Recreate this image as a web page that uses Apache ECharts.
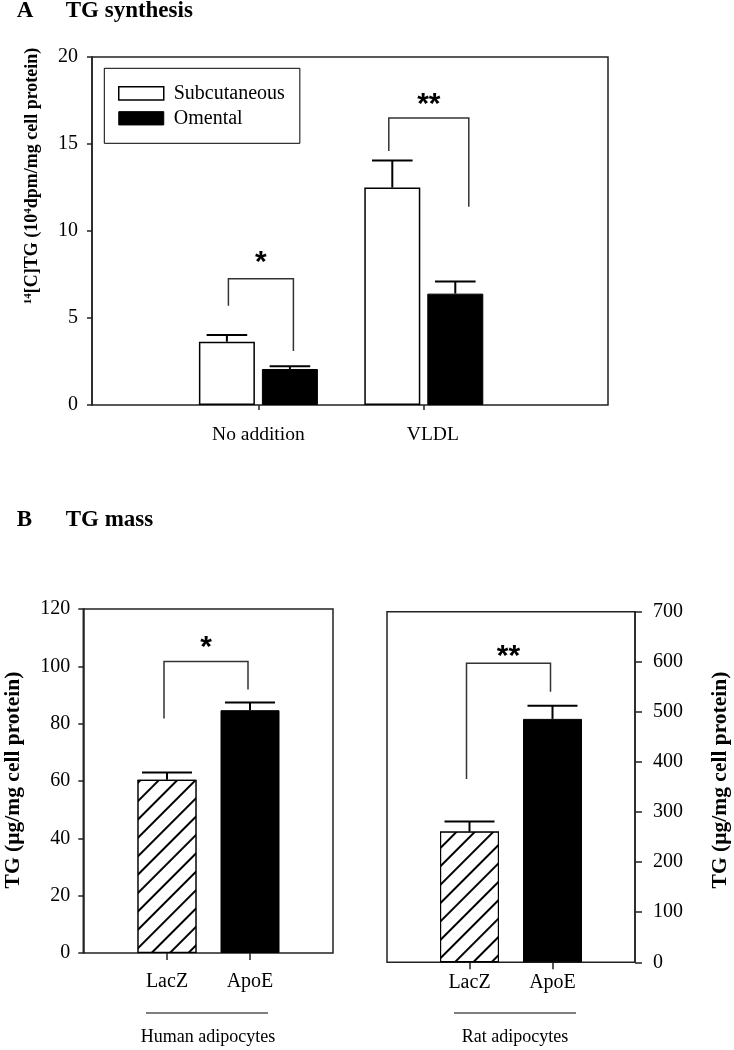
<!DOCTYPE html>
<html><head><meta charset="utf-8">
<script src="https://cdn.jsdelivr.net/npm/echarts@6/dist/echarts.min.js"></script>
<style>html,body{margin:0;padding:0;background:#fff}#c{width:734px;height:1050px}</style>
</head><body><div id="c"></div>
<script>
// ---------- Panel A: TG synthesis ----------
const catsA = ['No addition', 'VLDL'];
const seriesNamesA = ['Subcutaneous', 'Omental'];
const subcutaneous = [3.64, 12.5];
const subcutaneousErr = [0.38, 1.55];
const omental = [2.07, 6.4];
const omentalErr = [0.15, 0.7];
const ticksA = [0, 5, 10, 15, 20];
// significance brackets: [leftCategory, rightCategory, leftEnd, top, rightEnd, label, labelY]
const bracketsA = [[0, 0, 5.7, 7.25, 3.1, '*', 8.5], [1, 1, 14.6, 16.5, 11.4, '**', 17.6]];

// ---------- Panel B: TG mass ----------
const catsB = ['LacZ', 'ApoE'];
const human = [60.4, 84.7];
const humanErr = [2.6, 2.7];
const ticksHuman = [0, 20, 40, 60, 80, 100, 120];
const rat = [261, 486];
const ratErr = [20, 26];
const ticksRat = [0, 100, 200, 300, 400, 500, 600, 700];
const bracketHuman = [[0, 1, 81.8, 101.7, 91.9, '*', 108.5]];
const bracketRat = [[0, 1, 366, 597, 540, '**', 623]];

const FONT = 'Liberation Serif';
const BLACK = '#000';
const LINE = '#222';

// layout / style (pixel) settings
const L = {
  A: { frame: {left: 92, top: 57, width: 516, height: 348}, bars: {left: 175.7, width: 330.8} },
  BL: { frame: {left: 83.3, top: 609, width: 249.7, height: 344}, bars: {left: 125.5, width: 166} },
  BR: { frame: {left: 387, top: 611.7, width: 248, height: 350.6}, bars: {left: 428, width: 166} }
};
const barWA = 56, gapA = 7, offA = (barWA + gapA) / 2;
const barWB = 59;
const bracketOffA = [[-30, 35], [-35, 45]];
const bracketOffB = [[-3, -2]];

function errSeries(name, xi, vals, errs, off, halfCap) {
  return {
    type: 'custom', name: name, xAxisIndex: xi, yAxisIndex: xi, silent: true, z: 5,
    data: vals.map((v, i) => [i, v, errs[i]]),
    encode: {x: 0, y: 1},
    renderItem: function (params, api) {
      const c = api.value(0), v = api.value(1), e = api.value(2);
      const x = api.coord([c, 0])[0] + off;
      const yTop = api.coord([c, v])[1];
      const yCap = api.coord([c, v + e])[1];
      const st = {stroke: BLACK, lineWidth: 2};
      return {type: 'group', children: [
        {type: 'line', shape: {x1: x, y1: yTop, x2: x, y2: yCap}, style: st},
        {type: 'line', shape: {x1: x - halfCap, y1: yCap, x2: x + halfCap, y2: yCap}, style: st}
      ]};
    }
  };
}

function bracketSeries(xi, data, offs, starDy, starSize) {
  return {
    type: 'custom', xAxisIndex: xi, yAxisIndex: xi, silent: true, z: 6,
    data: data.map(d => [d[0], d[2], d[3], d[4], d[6], d[1]]),
    encode: {x: 0, y: 1},
    renderItem: function (params, api) {
      const i = params.dataIndex;
      const cl = api.value(0), cr = api.value(5);
      const xl = api.coord([cl, 0])[0] + offs[i][0];
      const xr = api.coord([cr, 0])[0] + offs[i][1];
      const yl = api.coord([cl, api.value(1)])[1];
      const yt = api.coord([cl, api.value(2)])[1];
      const yr = api.coord([cl, api.value(3)])[1];
      const ys = api.coord([cl, api.value(4)])[1];
      return {type: 'group', children: [
        {type: 'polyline', shape: {points: [[xl, yl], [xl, yt], [xr, yt], [xr, yr]]},
          style: {stroke: '#333', lineWidth: 1.5, fill: null}},
        {type: 'text', x: (xl + xr) / 2, y: ys + starDy,
          style: {text: data[i][5], font: 'bold ' + starSize + 'px "Liberation Sans"', fill: BLACK,
            align: 'center', verticalAlign: 'middle'}}
      ]};
    }
  };
}

const yLabel = {fontFamily: FONT, fontSize: 20, color: BLACK};
const axisLineStyle = {color: LINE, width: 1.5};

const option = {
  animation: false,
  backgroundColor: '#fff',
  grid: [
    Object.assign({show: true, borderColor: LINE, borderWidth: 1.5, backgroundColor: 'transparent'}, L.A.frame),
    {left: L.A.bars.left, width: L.A.bars.width, top: L.A.frame.top, height: L.A.frame.height},
    Object.assign({show: true, borderColor: LINE, borderWidth: 1.5, backgroundColor: 'transparent'}, L.BL.frame),
    {left: L.BL.bars.left, width: L.BL.bars.width, top: L.BL.frame.top, height: L.BL.frame.height},
    Object.assign({show: true, borderColor: LINE, borderWidth: 1.5, backgroundColor: 'transparent'}, L.BR.frame),
    {left: L.BR.bars.left, width: L.BR.bars.width, top: L.BR.frame.top, height: L.BR.frame.height}
  ],
  xAxis: [
    {gridIndex: 0, type: 'value', show: false, min: 0, max: 1},
    {gridIndex: 1, type: 'category', data: catsA, axisLine: {show: false},
      axisTick: {show: true, alignWithLabel: true, length: 5, lineStyle: axisLineStyle},
      axisLabel: {fontFamily: FONT, fontSize: 19.5, color: BLACK, margin: 20,
        formatter: (v, i) => i === 1 ? '{r|' + v + '}' : v,
        rich: {r: {fontFamily: FONT, fontSize: 19.5, color: BLACK, padding: [0, 0, 0, 18]}}}},
    {gridIndex: 2, type: 'value', show: false, min: 0, max: 1},
    {gridIndex: 3, type: 'category', data: catsB, axisLine: {show: false},
      axisTick: {show: true, alignWithLabel: true, length: 7, lineStyle: axisLineStyle},
      axisLabel: {fontFamily: FONT, fontSize: 20, color: BLACK, margin: 19}},
    {gridIndex: 4, type: 'value', show: false, min: 0, max: 1},
    {gridIndex: 5, type: 'category', data: catsB, axisLine: {show: false},
      axisTick: {show: true, alignWithLabel: true, length: 7, lineStyle: axisLineStyle},
      axisLabel: {fontFamily: FONT, fontSize: 20, color: BLACK, margin: 10}}
  ],
  yAxis: [
    {gridIndex: 0, type: 'value', min: ticksA[0], max: ticksA[ticksA.length - 1], interval: ticksA[1] - ticksA[0],
      splitLine: {show: false}, axisLine: {show: true, onZero: false, lineStyle: axisLineStyle},
      axisTick: {show: true, length: 5, lineStyle: axisLineStyle}, axisLabel: Object.assign({margin: 14}, yLabel)},
    {gridIndex: 1, type: 'value', show: false, min: ticksA[0], max: ticksA[ticksA.length - 1]},
    {gridIndex: 2, type: 'value', min: ticksHuman[0], max: ticksHuman[ticksHuman.length - 1], interval: ticksHuman[1] - ticksHuman[0],
      splitLine: {show: false}, axisLine: {show: true, onZero: false, lineStyle: axisLineStyle},
      axisTick: {show: true, length: 5, lineStyle: axisLineStyle}, axisLabel: Object.assign({margin: 13}, yLabel)},
    {gridIndex: 3, type: 'value', show: false, min: ticksHuman[0], max: ticksHuman[ticksHuman.length - 1]},
    {gridIndex: 4, type: 'value', position: 'right', min: ticksRat[0], max: ticksRat[ticksRat.length - 1], interval: ticksRat[1] - ticksRat[0],
      splitLine: {show: false}, axisLine: {show: true, onZero: false, lineStyle: axisLineStyle},
      axisTick: {show: true, length: 7, lineStyle: axisLineStyle}, axisLabel: Object.assign({margin: 18}, yLabel)},
    {gridIndex: 5, type: 'value', show: false, min: ticksRat[0], max: ticksRat[ticksRat.length - 1]}
  ],
  legend: {
    orient: 'vertical', left: 104.3, top: 68.3, padding: [15, 15, 15, 13.7], itemGap: 5,
    itemWidth: 45, itemHeight: 13.3, borderColor: BLACK, borderWidth: 1, icon: 'rect',
    textStyle: {fontFamily: FONT, fontSize: 20, color: BLACK, padding: [0, 0, 0, 5]},
    data: [
      {name: seriesNamesA[0], itemStyle: {color: '#fff', borderColor: BLACK, borderWidth: 1.5}},
      {name: seriesNamesA[1], itemStyle: {color: BLACK, borderColor: BLACK, borderWidth: 1}}
    ]
  },
  series: [
    {type: 'bar', name: seriesNamesA[0], xAxisIndex: 1, yAxisIndex: 1, data: subcutaneous,
      barWidth: barWA, barGap: (gapA / barWA * 100) + '%',
      itemStyle: {color: '#fff', borderColor: BLACK, borderWidth: 1.5}},
    {type: 'bar', name: seriesNamesA[1], xAxisIndex: 1, yAxisIndex: 1, data: omental,
      barWidth: barWA, barGap: (gapA / barWA * 100) + '%',
      itemStyle: {color: BLACK, borderColor: BLACK, borderWidth: 1}},
    errSeries('errSub', 1, subcutaneous, subcutaneousErr, -offA, 20.3),
    errSeries('errOm', 1, omental, omentalErr, offA, 20.3),
    bracketSeries(1, bracketsA, bracketOffA, 6, 30),

    {type: 'bar', name: 'Human', xAxisIndex: 3, yAxisIndex: 3, barWidth: barWB,
      data: human.map((v, i) => ({value: v, itemStyle: i === 0 ?
        {color: '#fff', borderColor: BLACK, borderWidth: 1.2,
          decal: {symbol: 'rect', dashArrayX: [1, 0], dashArrayY: [1.3, 11], rotation: -Math.PI / 4, color: '#000', backgroundColor: '#fff'}} :
        {color: BLACK, borderColor: BLACK, borderWidth: 1}}))},
    errSeries('errHuman', 3, human, humanErr, 0, 25),
    bracketSeries(3, bracketHuman, bracketOffB, 6, 30),

    {type: 'bar', name: 'Rat', xAxisIndex: 5, yAxisIndex: 5, barWidth: barWB,
      data: rat.map((v, i) => ({value: v, itemStyle: i === 0 ?
        {color: '#fff', borderColor: BLACK, borderWidth: 1.2,
          decal: {symbol: 'rect', dashArrayX: [1, 0], dashArrayY: [1.3, 11], rotation: -Math.PI / 4, color: '#000', backgroundColor: '#fff'}} :
        {color: BLACK, borderColor: BLACK, borderWidth: 1}}))},
    errSeries('errRat', 5, rat, ratErr, 0, 25),
    bracketSeries(5, bracketRat, bracketOffB, 6, 30)
  ],
  graphic: [
    {type: 'text', left: 16.7, top: 0, style: {text: 'A', font: 'bold 23px "Liberation Serif"', fill: BLACK}},
    {type: 'text', left: 65.7, top: 0, style: {text: 'TG synthesis', font: 'bold 23px "Liberation Serif"', fill: BLACK}},
    {type: 'text', left: 16.7, top: 509, style: {text: 'B', font: 'bold 23px "Liberation Serif"', fill: BLACK}},
    {type: 'text', left: 65.7, top: 509, style: {text: 'TG mass', font: 'bold 23px "Liberation Serif"', fill: BLACK}},
    {type: 'text', x: 32, y: 176, rotation: Math.PI / 2,
      style: {text: '{s|14}[C]TG (10{s|4}dpm/mg cell protein)', align: 'center', verticalAlign: 'middle',
        font: 'bold 18px "Liberation Serif"', fill: BLACK,
        rich: {s: {fontSize: 11, fontWeight: 'bold', fontFamily: FONT, verticalAlign: 'top', padding: [0, 0, 8, 0]}}}},
    {type: 'text', x: 13, y: 780, rotation: Math.PI / 2,
      style: {text: 'TG (µg/mg cell protein)', align: 'center', verticalAlign: 'middle',
        font: 'bold 21.5px "Liberation Serif"', fill: BLACK}},
    {type: 'text', x: 720, y: 780, rotation: Math.PI / 2,
      style: {text: 'TG (µg/mg cell protein)', align: 'center', verticalAlign: 'middle',
        font: 'bold 21.5px "Liberation Serif"', fill: BLACK}},
    {type: 'line', shape: {x1: 146, y1: 1013, x2: 268, y2: 1013}, style: {stroke: '#555', lineWidth: 1.5}},
    {type: 'line', shape: {x1: 454, y1: 1013, x2: 576, y2: 1013}, style: {stroke: '#555', lineWidth: 1.5}},
    {type: 'text', x: 208, y: 1037, style: {text: 'Human adipocytes', align: 'center', verticalAlign: 'middle',
      font: '18px "Liberation Serif"', fill: BLACK}},
    {type: 'text', x: 515, y: 1037, style: {text: 'Rat adipocytes', align: 'center', verticalAlign: 'middle',
      font: '18px "Liberation Serif"', fill: BLACK}}
  ]
};

const chart = echarts.init(document.getElementById('c'), null, {renderer: 'canvas'});
chart.setOption(option);
</script>
</body></html>
